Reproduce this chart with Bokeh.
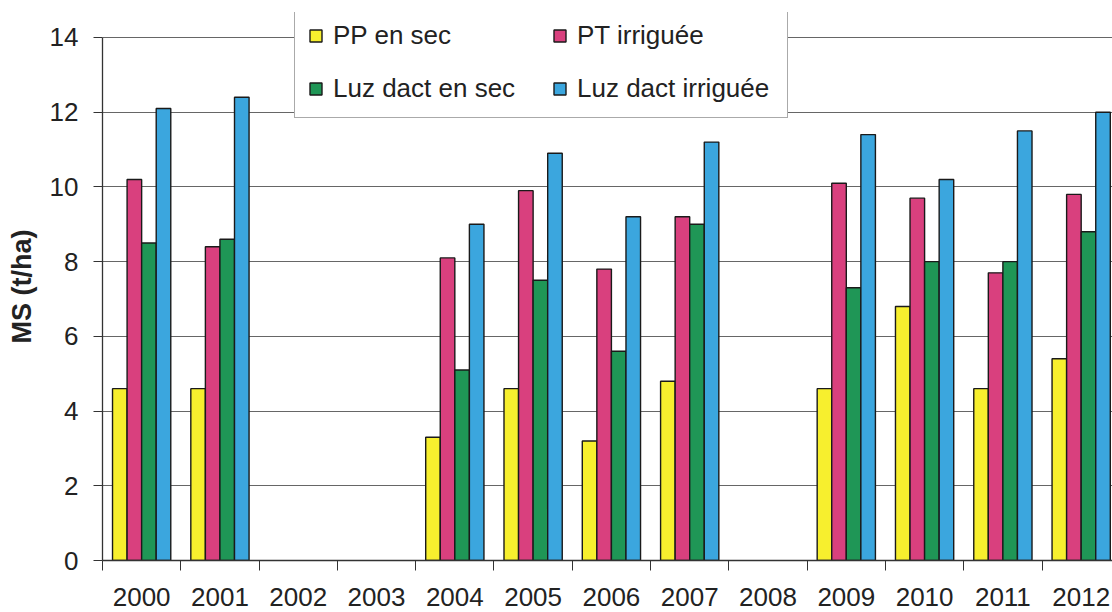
from bokeh.plotting import figure
from bokeh.models import (ColumnDataSource, Range1d, FixedTicker, Legend, LegendItem)
from bokeh.transform import dodge
from bokeh.embed import file_html
from bokeh.resources import INLINE

years = ["2000", "2001", "2002", "2003", "2004", "2005", "2006",
         "2007", "2008", "2009", "2010", "2011", "2012"]
pp_sec = [4.6, 4.6, None, None, 3.3, 4.6, 3.2, 4.8, None, 4.6, 6.8, 4.6, 5.4]
pt_irr = [10.2, 8.4, None, None, 8.1, 9.9, 7.8, 9.2, None, 10.1, 9.7, 7.7, 9.8]
luz_sec = [8.5, 8.6, None, None, 5.1, 7.5, 5.6, 9.0, None, 7.3, 8.0, 8.0, 8.8]
luz_irr = [12.1, 12.4, None, None, 9.0, 10.9, 9.2, 11.2, None, 11.4, 10.2, 11.5, 12.0]
y_ticks = [0, 2, 4, 6, 8, 10, 12, 14]

series_names = ["PP en sec", "PT irriguée", "Luz dact en sec", "Luz dact irriguée"]
series_values = [pp_sec, pt_irr, luz_sec, luz_irr]
colors = ["#F7EF2E", "#D9407E", "#1F9656", "#3BA6DE"]

FONT = "Liberation Sans"
TXT = "#222222"

p = figure(width=1112, height=612, output_backend="svg", toolbar_location=None,
           x_range=Range1d(0, 12.9), y_range=Range1d(0, 14.669),
           min_border_left=102, min_border_right=0, min_border_top=12,
           min_border_bottom=52)
p.outline_line_color = None
p.background_fill_color = "white"
p.border_fill_color = "white"

bar_w = 0.186
renderers = []
for k, (name, vals, col) in enumerate(zip(series_names, series_values, colors)):
    xs = [i + 0.5 for i, v in enumerate(vals) if v is not None]
    ys = [v for v in vals if v is not None]
    src = ColumnDataSource(dict(x=xs, top=ys))
    r = p.vbar(x=dodge("x", (k - 1.5) * bar_w), top="top", bottom=0, width=bar_w,
               source=src, fill_color=col, line_color="#1a1a1a", line_width=1.4)
    renderers.append(r)

# axes
centers = [i + 0.5 for i in range(len(years))]
bounds = list(range(len(years) + 1))
xa = p.xaxis[0]
xa.ticker = FixedTicker(ticks=centers, minor_ticks=bounds)
xa.major_label_overrides = {c: y for c, y in zip(centers, years)}
xa.major_tick_out = 0
xa.major_tick_in = 0
xa.minor_tick_out = 10
xa.minor_tick_in = 0
xa.minor_tick_line_color = "#333333"
xa.major_label_standoff = 17
xa.major_label_text_font = FONT
xa.major_label_text_font_size = "26px"
xa.major_label_text_color = TXT
xa.axis_line_color = "#333333"
xa.axis_line_width = 1.3

ya = p.yaxis[0]
ya.ticker = FixedTicker(ticks=y_ticks, minor_ticks=[])
ya.bounds = (y_ticks[0], y_ticks[-1])
ya.major_tick_out = 9
ya.major_tick_in = 0
ya.major_tick_line_color = "#333333"
ya.major_label_standoff = 15
ya.major_label_text_font = FONT
ya.major_label_text_font_size = "26px"
ya.major_label_text_color = TXT
ya.axis_line_color = "#333333"
ya.axis_line_width = 1.3
ya.axis_label = "MS (t/ha)"
ya.axis_label_text_font = FONT
ya.axis_label_text_font_size = "27px"
ya.axis_label_text_font_style = "bold"
ya.axis_label_text_color = TXT
ya.axis_label_standoff = 10

p.xgrid.grid_line_color = None
p.ygrid.ticker = FixedTicker(ticks=y_ticks[1:])
p.ygrid.grid_line_color = "#666666"
p.ygrid.grid_line_width = 1

items = [LegendItem(label=series_names[i], renderers=[renderers[i]]) for i in [0, 2, 1, 3]]
legend = Legend(items=items, ncols=2, orientation="vertical", location=(192, 442),
                glyph_width=15, glyph_height=15, label_standoff=10, label_width=197,
                spacing=22, padding=13, margin=0,
                label_text_font=FONT, label_text_font_size="26px",
                label_text_color=TXT, border_line_color="#555555",
                border_line_width=1, background_fill_color="white",
                background_fill_alpha=1.0)
p.add_layout(legend, "center")

open("out.html", "w").write(file_html(p, INLINE))
